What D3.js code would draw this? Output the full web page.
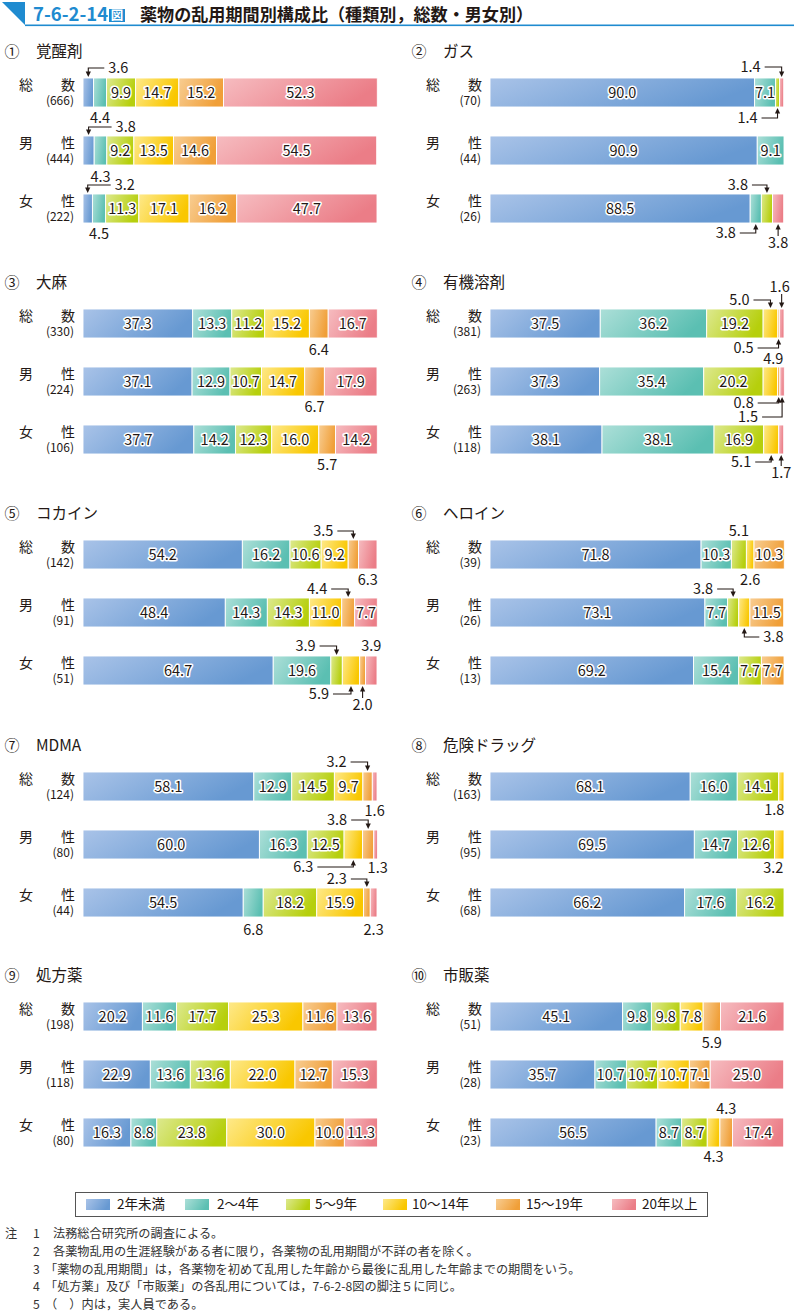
<!DOCTYPE html>
<html><head><meta charset="utf-8">
<script src="https://cdn.jsdelivr.net/npm/d3@7"></script>
<style>
html,body{margin:0;padding:0;background:#fff;}
svg{display:block;font-family:"Noto Sans CJK JP","Noto Sans",sans-serif;}
</style></head><body>
<svg id="c" width="794" height="1313"></svg>
<script>
// ---------- DATA ----------
const categories = ["2年未満", "2～4年", "5～9年", "10～14年", "15～19年", "20年以上"];
const drugs = ["覚醒剤", "ガス", "大麻", "有機溶剤", "コカイン", "ヘロイン", "MDMA", "危険ドラッグ", "処方薬", "市販薬"];
const marks = ["①", "②", "③", "④", "⑤", "⑥", "⑦", "⑧", "⑨", "⑩"];
const groups = [["総", "数"], ["男", "性"], ["女", "性"]];
const counts = [[666, 444, 222], [70, 44, 26], [330, 224, 106], [381, 263, 118], [142, 91, 51],
                [39, 26, 13], [124, 80, 44], [163, 95, 68], [198, 118, 80], [51, 28, 23]];
const stimulants = [[3.6, 4.4, 9.9, 14.7, 15.2, 52.3], [3.8, 4.3, 9.2, 13.5, 14.6, 54.5], [3.2, 4.5, 11.3, 17.1, 16.2, 47.7]];
const gas = [[90.0, 7.1, 1.4, 0, 0, 1.4], [90.9, 9.1, 0, 0, 0, 0], [88.5, 3.8, 3.8, 0, 0, 3.8]];
const cannabis = [[37.3, 13.3, 11.2, 15.2, 6.4, 16.7], [37.1, 12.9, 10.7, 14.7, 6.7, 17.9], [37.7, 14.2, 12.3, 16.0, 5.7, 14.2]];
const solvents = [[37.5, 36.2, 19.2, 5.0, 0.5, 1.6], [37.3, 35.4, 20.2, 4.9, 0.8, 1.5], [38.1, 38.1, 16.9, 5.1, 0, 1.7]];
const cocaine = [[54.2, 16.2, 10.6, 9.2, 3.5, 6.3], [48.4, 14.3, 14.3, 11.0, 4.4, 7.7], [64.7, 19.6, 3.9, 5.9, 2.0, 3.9]];
const heroin = [[71.8, 10.3, 5.1, 2.6, 10.3, 0], [73.1, 7.7, 3.8, 3.8, 11.5, 0], [69.2, 15.4, 7.7, 0, 7.7, 0]];
const mdma = [[58.1, 12.9, 14.5, 9.7, 3.2, 1.6], [60.0, 16.3, 12.5, 6.3, 3.8, 1.3], [54.5, 6.8, 18.2, 15.9, 2.3, 2.3]];
const dangerous = [[68.1, 16.0, 14.1, 1.8, 0, 0], [69.5, 14.7, 12.6, 3.2, 0, 0], [66.2, 17.6, 16.2, 0, 0, 0]];
const prescription = [[20.2, 11.6, 17.7, 25.3, 11.6, 13.6], [22.9, 13.6, 13.6, 22.0, 12.7, 15.3], [16.3, 8.8, 23.8, 30.0, 10.0, 11.3]];
const otc = [[45.1, 9.8, 9.8, 7.8, 5.9, 21.6], [35.7, 10.7, 10.7, 10.7, 7.1, 25.0], [56.5, 8.7, 8.7, 4.3, 4.3, 17.4]];
const values = [stimulants, gas, cannabis, solvents, cocaine, heroin, mdma, dangerous, prescription, otc];
const notes = [
  ["注", "1", "法務総合研究所の調査による。"],
  ["", "2", "各薬物乱用の生涯経験がある者に限り，各薬物の乱用期間が不詳の者を除く。"],
  ["", "3", "「薬物の乱用期間」は，各薬物を初めて乱用した年齢から最後に乱用した年齢までの期間をいう。"],
  ["", "4", "「処方薬」及び「市販薬」の各乱用については，7-6-2-8図の脚注５に同じ。"],
  ["", "5", "（　）内は，実人員である。"]
];

// ---------- LAYOUT / STYLE ----------
const gradStops = [["#a9c3e8", "#6799d2"], ["#acdfd8", "#5bbfb2"], ["#dde98f", "#b6cf0c"],
                   ["#fee98a", "#f9c700"], ["#f8cd92", "#f09f38"], ["#f6bcc0", "#eb7d87"]];
const colX = [83, 490], barW = 294;
const panelTops = [78, 309, 540, 772, 1002];
// callouts: [panel,row,segment,side,type,dx,dy]  (e=elbow arrow, v=vertical arrow, p=plain)
const callouts = [
  [0,0,0,'t','e',20,10],[0,0,1,'b','p',0,11],[0,1,0,'t','e',27,9],[0,1,1,'b','p',0,12],[0,2,0,'t','e',27,9],[0,2,1,'b','p',0,11],
  [1,0,2,'b','e',-20,11],[1,0,5,'t','e',-21,11],[1,2,1,'b','e',-20,10],[1,2,2,'t','e',-19,9],[1,2,5,'b','v',0,20],
  [2,0,4,'b','p',0,12],[2,1,4,'b','p',0,11],[2,2,4,'b','p',0,11],
  [3,0,3,'t','e',-21,9],[3,0,4,'b','e',-25,10],[3,0,5,'t','v',-2,22],[3,1,3,'t','p',3,8],[3,1,4,'b','e',-25,7],
  [3,1,5,'b','e',-24,21],[3,2,3,'b','e',-20,8],[3,2,5,'b','v',0,19],
  [4,0,4,'t','e',-20,9],[4,0,5,'b','p',0,11],[4,1,4,'t','e',-21,9],[4,2,2,'t','e',-21,10],[4,2,5,'t','p',0,10],
  [4,2,3,'b','e',-22,9],[4,2,4,'b','v',0,20],
  [5,0,2,'t','p',0,9],[5,0,3,'b','p',0,11],[5,1,2,'t','e',-20,9],[5,1,3,'b','e',19,10],
  [6,0,4,'t','e',-21,10],[6,0,5,'b','p',0,10],[6,1,4,'t','e',-21,10],[6,1,3,'b','e',-40,8],[6,1,5,'b','p',2,9],
  [6,2,4,'t','e',-20,9],[6,2,1,'b','p',0,13],[6,2,5,'b','p',0,13],
  [7,0,3,'b','p',-7,9],[7,1,3,'b','p',-6,9],
  [9,0,4,'b','p',0,12],[9,2,3,'b','p',0,10],[9,2,4,'t','p',0,9]
];
const legendSwX = [86, 185, 286, 383, 496, 612];
const legendTxX = [117, 217, 315, 412, 526, 642];

const fmt = d3.format(".1f");
const svg = d3.select("#c");
const defs = svg.append("defs");
gradStops.forEach((s, i) => {
  const g = defs.append("linearGradient").attr("id", "g" + i).attr("x1", 0).attr("y1", 0).attr("x2", 1).attr("y2", 0.3);
  g.append("stop").attr("offset", "0%").attr("stop-color", s[0]);
  g.append("stop").attr("offset", "100%").attr("stop-color", s[1]);
});

// ---------- HEADER ----------
const blue = "#1f8bd0";
svg.append("path").attr("d", "M2,2 H25 V25 Z").attr("fill", blue);
svg.append("rect").attr("x", 25).attr("y", 24.5).attr("width", 769).attr("height", 1.6).attr("fill", blue);
svg.append("text").attr("x", 33).attr("y", 21).attr("font-size", 18.5).attr("font-weight", 700)
  .attr("fill", blue).text("7-6-2-14");
svg.append("rect").attr("x", 109).attr("y", 9).attr("width", 16).attr("height", 13).attr("fill", blue);
svg.append("text").attr("x", 117).attr("y", 19.8).attr("text-anchor", "middle").attr("font-size", 12.5)
  .attr("font-weight", 700).attr("fill", "#fff").text("図");
svg.append("text").attr("x", 140).attr("y", 21).attr("font-size", 17.1).attr("font-weight", 700)
  .attr("fill", "#231815").text("薬物の乱用期間別構成比（種類別，総数・男女別）");

// ---------- PANELS ----------
const geom = [];
values.forEach((rows, p) => {
  const x0 = colX[p % 2], top = panelTops[Math.floor(p / 2)];
  const x = d3.scaleLinear().domain([0, 100]).range([x0, x0 + barW]);
  const y = d3.scaleBand().domain([0, 1, 2]).range([top, top + 145]).paddingInner(0.5).paddingOuter(0);
  geom[p] = { x, y };
  const g = svg.append("g");
  g.append("text").attr("x", x0 - 71).attr("y", top - 26).attr("dy", "0.35em").attr("text-anchor", "middle")
    .attr("font-size", 15).attr("fill", "#231815").text(marks[p]);
  g.append("text").attr("x", x0 - 47).attr("y", top - 26).attr("dy", "0.35em")
    .attr("font-size", 15.5).attr("fill", "#231815").text(drugs[p]);
  rows.forEach((vals, r) => {
    const by = y(r), bh = y.bandwidth();
    g.append("text").attr("x", x0 - 57).attr("y", by + 7.5).attr("dy", "0.35em").attr("text-anchor", "middle")
      .attr("font-size", 14).attr("fill", "#231815").text(groups[r][0]);
    g.append("text").attr("x", x0 - 15).attr("y", by + 7.5).attr("dy", "0.35em").attr("text-anchor", "middle")
      .attr("font-size", 14).attr("fill", "#231815").text(groups[r][1]);
    g.append("text").attr("x", x0 - 9).attr("y", by + 23).attr("dy", "0.35em").attr("text-anchor", "end")
      .attr("font-size", 12).attr("fill", "#231815").text("(" + counts[p][r] + ")");
    const starts = [0, ...d3.cumsum(vals)];
    vals.forEach((v, s) => {
      if (v <= 0) return;
      const xa = x(starts[s]), xb = x(starts[s] + v);
      g.append("rect").attr("x", xa).attr("y", by).attr("width", xb - xa).attr("height", bh)
        .attr("fill", `url(#g${s})`).attr("stroke", "#fff").attr("stroke-width", 0.9);
      if (v >= 7) {
        g.append("text").attr("x", (xa + xb) / 2).attr("y", by + bh / 2).attr("dy", "0.36em")
          .attr("text-anchor", "middle").attr("font-size", 14.5).attr("fill", "#231815")
          .attr("stroke", "#fff").attr("stroke-width", 3).attr("stroke-linejoin", "round")
          .attr("paint-order", "stroke").text(fmt(v));
      }
    });
  });
});

// ---------- CALLOUTS ----------
const cg = svg.append("g");
callouts.forEach(([p, r, s, side, type, dx, dy]) => {
  const { x, y } = geom[p];
  const vals = values[p][r];
  const st = d3.sum(vals.slice(0, s));
  const cx = (x(st) + x(st + vals[s])) / 2;
  const top = y(r), bot = top + y.bandwidth();
  const edge = side === 't' ? top : bot;
  const ty = side === 't' ? top - dy : bot + dy;
  const lab = fmt(vals[s]);
  const txt = (tx, anchor) => cg.append("text").attr("x", tx).attr("y", ty).attr("dy", "0.36em")
    .attr("text-anchor", anchor).attr("font-size", 14.5).attr("fill", "#231815").text(lab);
  const head = (xx, ye, down) => cg.append("path").attr("fill", "#231815")
    .attr("d", down ? `M${xx - 2.6},${ye - 5.5}L${xx + 2.6},${ye - 5.5}L${xx},${ye}Z`
                    : `M${xx - 2.6},${ye + 5.5}L${xx + 2.6},${ye + 5.5}L${xx},${ye}Z`);
  const down = side === 't';
  const ye = down ? edge - 1 : edge + 1;
  if (type === 'e') {
    const tx = cx + dx;
    txt(tx, dx < 0 ? "end" : "start");
    const lx = dx < 0 ? tx + 4 : tx - 4;
    cg.append("path").attr("fill", "none").attr("stroke", "#231815").attr("stroke-width", 1.1)
      .attr("d", `M${lx},${ty}H${cx}V${down ? ye - 4 : ye + 4}`);
    head(cx, ye, down);
  } else if (type === 'v') {
    txt(cx + dx, "middle");
    const y1 = down ? ty + 7 : ty - 7;
    cg.append("path").attr("fill", "none").attr("stroke", "#231815").attr("stroke-width", 1.1)
      .attr("d", `M${cx},${y1}V${down ? ye - 4 : ye + 4}`);
    head(cx, ye, down);
  } else {
    txt(cx + dx, "middle");
  }
});

// ---------- LEGEND ----------
const lg = svg.append("g");
lg.append("rect").attr("x", 75.5).attr("y", 1192.5).attr("width", 632).attr("height", 24)
  .attr("fill", "#fff").attr("stroke", "#555").attr("stroke-width", 1);
categories.forEach((c, i) => {
  lg.append("rect").attr("x", legendSwX[i]).attr("y", 1199).attr("width", 24).attr("height", 11)
    .attr("fill", `url(#g${i})`);
  lg.append("text").attr("x", legendTxX[i]).attr("y", 1204.5).attr("dy", "0.36em")
    .attr("font-size", 13.5).attr("fill", "#231815").text(c);
});

// ---------- NOTES ----------
const ng = svg.append("g").attr("font-size", 12.2).attr("fill", "#333");
notes.forEach((n, i) => {
  const yy = 1234 + i * 17.6;
  if (n[0]) ng.append("text").attr("x", 5).attr("y", yy).attr("dy", "0.36em").text(n[0]);
  ng.append("text").attr("x", 33).attr("y", yy).attr("dy", "0.36em").text(n[1]);
  const startsBracket = /^[「（]/.test(n[2]);
  ng.append("text").attr("x", startsBracket ? 45 : 53).attr("y", yy).attr("dy", "0.36em").text(n[2]);
});
</script>
</body></html>
